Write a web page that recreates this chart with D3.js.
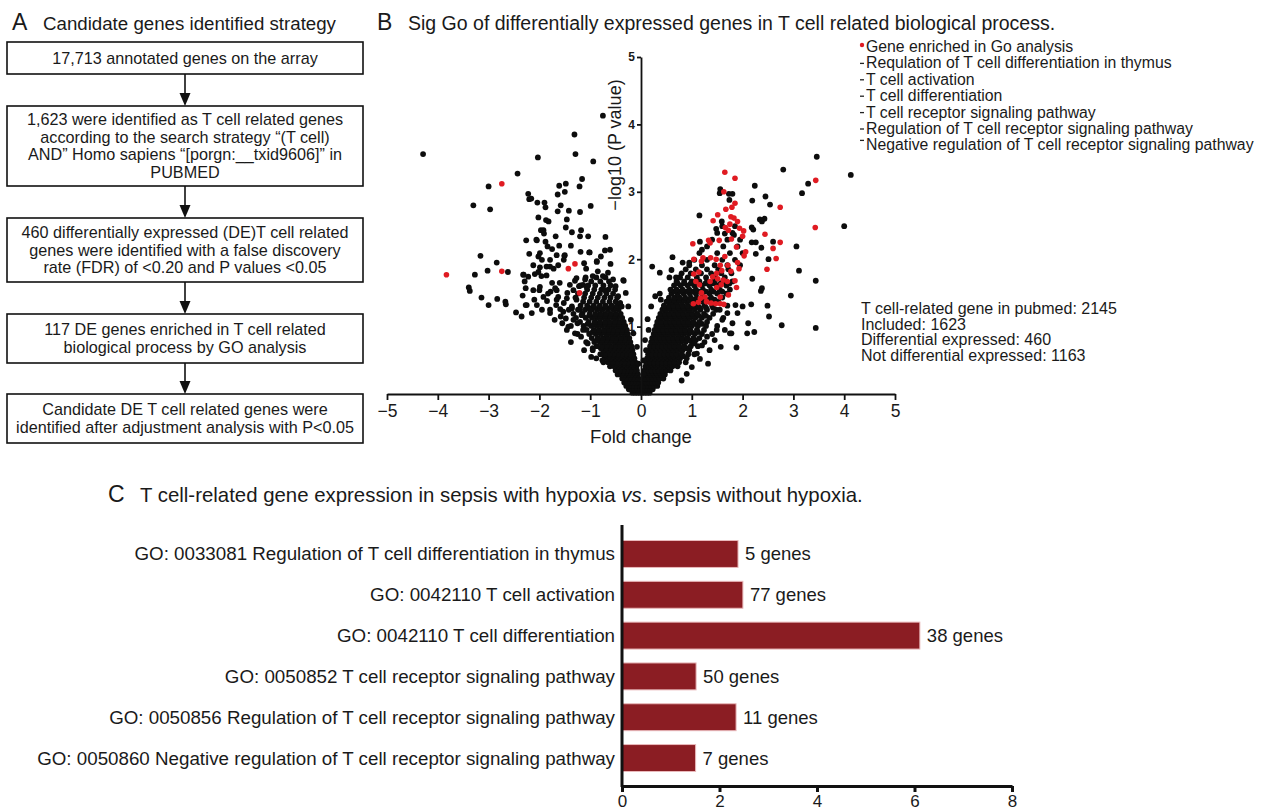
<!DOCTYPE html>
<html>
<head>
<meta charset="utf-8">
<script src="https://cdn.jsdelivr.net/npm/d3@7"></script>
<style>
body { margin: 0; background: #fff; }
text { font-family: "Liberation Sans", Arial, sans-serif; fill: #1a1a1a; }
</style>
</head>
<body>
<svg id="fig" width="1263" height="810"></svg>
<script>
// ---------- data ----------
const flowSteps = [
  ['17,713 annotated genes on the array'],
  ['1,623 were identified as T cell related genes', 'according to the search strategy “(T cell)', 'AND” Homo sapiens “[porgn:__txid9606]” in', 'PUBMED'],
  ['460 differentially expressed (DE)T cell related', 'genes were identified with a false discovery', 'rate (FDR) of <0.20 and P values <0.05'],
  ['117 DE genes enriched in T cell related', 'biological process by GO analysis'],
  ['Candidate DE T cell related genes were', 'identified after adjustment analysis with P<0.05']
];

const legendItems = [
  'Gene enriched in Go analysis',
  'Requlation of T cell differentiation in thymus',
  'T cell activation',
  'T cell differentiation',
  'T cell receptor signaling pathway',
  'Regulation of T cell receptor signaling pathway',
  'Negative regulation of T cell receptor signaling pathway'
];
const statsLines = [
  'T cell-related gene in pubmed: 2145',
  'Included: 1623',
  'Differential expressed: 460',
  'Not differential expressed: 1163'
];

const volcTicksX = [-5, -4, -3, -2, -1, 0, 1, 2, 3, 4, 5];
const volcTicksY = [1, 2, 3, 4, 5];

// dense part of the volcano, read row by row: [ -log10 p, [fold changes] ]
const leftRows = [
  [0.02, [-0.02,-0.07,-0.12,-0.17]],
  [0.07, [-0.03,-0.08,-0.13,-0.19,-0.24]],
  [0.12, [-0.02,-0.07,-0.12,-0.18,-0.24,-0.29]],
  [0.17, [-0.04,-0.09,-0.15,-0.21,-0.27,-0.33]],
  [0.23, [-0.05,-0.11,-0.17,-0.23,-0.3,-0.37]],
  [0.29, [-0.06,-0.12,-0.19,-0.25,-0.32,-0.39,-0.46]],
  [0.32, [-0.09,-0.16,-0.22,-0.29,-0.36,-0.43]],
  [0.35, [-0.08,-0.14,-0.21,-0.28,-0.35,-0.42,-0.5]],
  [0.41, [-0.09,-0.16,-0.23,-0.3,-0.37,-0.45,-0.53,-0.61]],
  [0.44, [-0.13,-0.2,-0.27,-0.34,-0.41,-0.49,-0.57]],
  [0.47, [-0.11,-0.18,-0.26,-0.33,-0.41,-0.48,-0.56,-0.65,-0.74]],
  [0.53, [-0.13,-0.2,-0.28,-0.35,-0.43,-0.51,-0.59,-0.67,-0.88]],
  [0.56, [-0.17,-0.24,-0.32,-0.39,-0.47,-0.55,-0.63,-0.72]],
  [0.59, [-0.15,-0.22,-0.3,-0.38,-0.46,-0.54,-0.62,-0.71,-0.8]],
  [0.65, [-0.17,-0.25,-0.33,-0.41,-0.49,-0.57,-0.65,-0.74,-0.95]],
  [0.68, [-0.21,-0.29,-0.37,-0.45,-0.53,-0.61,-0.69,-0.79]],
  [0.71, [-0.19,-0.27,-0.35,-0.43,-0.51,-0.6,-0.68,-0.77,-0.87]],
  [0.77, [-0.21,-0.29,-0.37,-0.46,-0.54,-0.63,-0.72,-0.81,-0.92,-1.08]],
  [0.80, [-0.25,-0.33,-0.41,-0.5,-0.59,-0.68,-0.77,-0.87]],
  [0.83, [-0.23,-0.32,-0.4,-0.49,-0.57,-0.66,-0.75,-0.85,-0.97]],
  [0.89, [-0.26,-0.34,-0.43,-0.52,-0.6,-0.69,-0.79,-0.89,-1.02,-1.25]],
  [0.92, [-0.3,-0.38,-0.47,-0.56,-0.65,-0.74,-0.84,-0.95]],
  [0.95, [-0.28,-0.37,-0.46,-0.55,-0.64,-0.73,-0.83,-0.93,-1.07]],
  [1.01, [-0.31,-0.4,-0.49,-0.58,-0.67,-0.77,-0.87,-0.98,-1.13,-1.38]],
  [1.04, [-0.35,-0.44,-0.53,-0.63,-0.72,-0.82,-0.92,-1.05]],
  [1.07, [-0.34,-0.43,-0.52,-0.62,-0.71,-0.81,-0.91,-1.03,-1.2]],
  [1.13, [-0.37,-0.47,-0.56,-0.66,-0.76,-0.86,-0.96,-1.09,-1.28]],
  [1.16, [-0.42,-0.52,-0.61,-0.71,-0.81,-0.91,-1.02]],
  [1.19, [-0.4,-0.5,-0.6,-0.7,-0.8,-0.9,-1.01,-1.15,-1.33]],
  [1.25, [-0.44,-0.54,-0.65,-0.76,-0.86,-0.97,-1.1,-1.24]],
  [1.28, [-0.49,-0.6,-0.7,-0.81,-0.92,-1.03]],
  [1.31, [-0.47,-0.58,-0.7,-0.81,-0.93,-1.06,-1.19]],
  [1.37, [-0.5,-0.62,-0.75,-0.88,-1.01,-1.14]],
  [1.43, [-0.47,-0.6,-0.72,-0.85,-0.98,-1.12,-1.29]],
  [1.49, [-0.55,-0.68,-0.81,-0.95,-1.1,-1.24]],
  [1.55, [-0.51,-0.64,-0.78,-0.92,-1.06]],
  [1.61, [-0.6,-0.74,-0.9,-1.04,-1.19]],
  [1.67, [-0.63,-0.8,-0.98]],
  [1.73, [-0.7,-0.88,-1.09]]
];
const rightRows = [
  [0.02, [0.02,0.07,0.12,0.17]],
  [0.07, [0.03,0.08,0.13,0.18,0.23]],
  [0.12, [0.03,0.08,0.14,0.2,0.26,0.32]],
  [0.17, [0.04,0.1,0.16,0.22,0.28,0.34]],
  [0.23, [0.05,0.11,0.17,0.23,0.3,0.37,0.44]],
  [0.29, [0.06,0.12,0.19,0.26,0.33,0.4,0.47]],
  [0.32, [0.09,0.16,0.23,0.3,0.37,0.44]],
  [0.35, [0.07,0.14,0.21,0.28,0.35,0.42,0.5,0.58]],
  [0.41, [0.09,0.16,0.23,0.3,0.38,0.46,0.54,0.62,0.72]],
  [0.44, [0.13,0.2,0.27,0.34,0.42,0.5,0.58,0.67]],
  [0.47, [0.1,0.18,0.26,0.34,0.42,0.5,0.58,0.66,0.75,0.88]],
  [0.53, [0.12,0.2,0.28,0.36,0.44,0.52,0.6,0.68,0.77,0.9]],
  [0.56, [0.16,0.24,0.32,0.4,0.48,0.56,0.64,0.73,0.83]],
  [0.59, [0.14,0.22,0.3,0.38,0.46,0.54,0.62,0.7,0.8,0.93,1.05]],
  [0.65, [0.16,0.24,0.32,0.4,0.48,0.56,0.64,0.73,0.82,0.95]],
  [0.68, [0.22,0.3,0.38,0.46,0.54,0.62,0.7,0.79,0.9]],
  [0.71, [0.18,0.26,0.34,0.42,0.5,0.58,0.66,0.75,0.85,0.98,1.12]],
  [0.77, [0.2,0.28,0.36,0.44,0.52,0.6,0.69,0.78,0.88,1.0,1.25]],
  [0.80, [0.24,0.32,0.4,0.48,0.56,0.65,0.74,0.83,0.94,1.08]],
  [0.83, [0.22,0.3,0.38,0.46,0.54,0.63,0.72,0.81,0.91,1.03,1.15]],
  [0.89, [0.25,0.33,0.41,0.49,0.57,0.66,0.75,0.84,0.94,1.06,1.2,1.4]],
  [0.92, [0.29,0.37,0.45,0.53,0.62,0.71,0.8,0.89,0.99,1.12]],
  [0.95, [0.27,0.35,0.43,0.52,0.6,0.69,0.78,0.87,0.97,1.1,1.24]],
  [1.01, [0.3,0.38,0.46,0.55,0.63,0.72,0.81,0.9,1.0,1.12,1.28,1.5]],
  [1.04, [0.34,0.42,0.51,0.6,0.69,0.78,0.87,0.96,1.06,1.2]],
  [1.07, [0.32,0.4,0.49,0.58,0.66,0.75,0.84,0.93,1.03,1.15,1.3]],
  [1.13, [0.35,0.44,0.52,0.61,0.7,0.79,0.88,0.97,1.07,1.2,1.35,1.62]],
  [1.16, [0.4,0.49,0.58,0.67,0.76,0.85,0.94,1.04,1.14,1.28]],
  [1.19, [0.38,0.47,0.56,0.65,0.74,0.83,0.92,1.01,1.11,1.24,1.42]],
  [1.25, [0.42,0.5,0.6,0.69,0.78,0.87,0.96,1.06,1.17,1.3,1.48]],
  [1.28, [0.47,0.56,0.65,0.74,0.84,0.94,1.04,1.15,1.28,1.42]],
  [1.31, [0.45,0.55,0.64,0.73,0.82,0.92,1.02,1.12,1.25,1.4,1.7]],
  [1.37, [0.5,0.6,0.7,0.8,0.9,1.0,1.1,1.22,1.35,1.52]],
  [1.40, [0.55,0.65,0.75,0.85,0.95,1.06,1.17,1.3,1.45]],
  [1.43, [0.55,0.66,0.76,0.87,0.98,1.1,1.24,1.38,1.6]],
  [1.49, [0.6,0.72,0.84,0.96,1.08,1.2,1.35,1.5,1.68]],
  [1.52, [0.66,0.78,0.9,1.02,1.14,1.28,1.43,1.6]],
  [1.55, [0.58,0.7,0.82,0.95,1.08,1.22,1.38,1.55,1.75]],
  [1.61, [0.65,0.78,0.92,1.05,1.2,1.35,1.5,1.68]],
  [1.64, [0.72,0.85,0.98,1.12,1.27,1.42,1.57,1.74]],
  [1.67, [0.7,0.85,1.0,1.15,1.3,1.45,1.62,1.8]],
  [1.73, [0.75,0.92,1.1,1.28,1.45,1.65]],
  [1.79, [0.8,0.98,1.18,1.38,1.58,1.78]],
  [1.85, [0.88,1.08,1.3,1.52,1.72]],
  [1.91, [0.95,1.2,1.45,1.7,1.95]],
  [1.99, [1.05,1.3,1.6,1.85]],
  [2.09, [1.15,1.5,1.75,2.0]],
  [2.19, [1.3,1.62,1.9]],
  [2.29, [1.4,1.7,1.95]],
  [2.39, [1.5,1.8]],
  [2.49, [1.6,1.85]]
];

// scattered genes outside the dense band: [fold change, -log10 p]
const blackPts = [
  [-4.29,3.56],[-2.03,3.51],[-1.29,3.56],[-1.31,3.85],[-0.75,4.13],[-0.94,3.45],[-2.43,3.27],[-3.0,3.08],[-3.30,2.80],[-2.97,2.74],
  [-1.61,3.09],[-1.48,3.12],[-1.16,3.19],[-1.21,3.08],[-1.50,3.0],[-1.64,2.96],[-2.22,2.97],[-2.20,2.89],[-2.16,2.90],[-2.04,2.84],
  [-1.90,2.84],[-1.88,2.77],[-1.58,2.80],[-1.64,2.71],[-1.42,2.72],[-1.20,2.70],[-0.99,2.79],[-2.02,2.62],[-1.87,2.58],[-1.82,2.56],
  [-1.46,2.59],[-1.48,2.47],[-1.36,2.40],[-1.18,2.43],[-1.04,2.34],[-1.97,2.43],[-1.91,2.38],[-1.68,2.34],[-2.26,2.28],[-2.06,2.29],
  [-1.88,2.26],[-1.84,2.19],[-1.61,2.20],[-1.38,2.20],[-0.70,2.33],[-0.71,2.13],[-0.79,2.04],[-0.60,1.93],[-2.20,2.08],[-2.02,2.04],
  [-1.95,1.99],[-1.79,1.99],[-1.66,2.06],[-1.51,2.05],[-1.52,1.99],[-1.19,2.11],[-1.01,2.10],[-1.12,1.94],[-1.08,1.86],[-0.87,1.97],
  [-2.12,1.91],[-1.99,1.88],[-1.86,1.89],[-1.72,1.86],[-1.63,1.91],[-3.16,2.05],[-2.84,1.95],[-3.02,1.83],[-2.62,1.81],[-3.27,1.77],
  [-2.31,1.77],[-2.09,1.78],[-1.96,1.75],[-1.86,1.76],[-2.29,1.67],[-3.39,1.58],[-3.37,1.53],[-3.14,1.43],[-3.0,1.32],[-2.83,1.41],
  [-2.67,1.37],[-2.66,1.33],[-2.46,1.21],[-2.35,1.15],[-2.27,1.32],[-2.33,1.46],[-2.27,1.57],[-2.10,1.40],[-2.05,1.32],[-1.99,1.59],
  [-2.00,1.54],[-1.83,1.49],[-1.78,1.52],[-1.66,1.54],[-1.63,1.44],[-1.67,1.32],[-1.59,1.26],[-1.79,1.20],[-1.58,1.15],[-1.46,1.42],
  [-1.30,1.68],[-1.27,1.72],[-1.14,1.62],[-1.33,1.54],[-1.36,1.30],[-1.43,1.00],[-1.38,0.77],[-1.20,1.25],[-0.98,0.55],[-0.76,0.50],
  [-0.34,1.68],[-0.41,1.35],[-2.05,2.28],[-1.92,2.43],[-1.99,2.09],[-1.75,2.15],[-1.50,2.06],[-1.20,2.34],[-1.02,2.10],[-0.61,2.14],
  [-0.35,1.69],[-0.87,1.96],[-2.32,1.77],[-2.22,1.74],[-2.12,1.54],[-2.25,1.32],[-1.92,1.44],[-1.79,1.25],[-1.66,1.40],[-1.53,1.22],
  [-1.33,1.10],[-1.46,0.95],[-1.14,0.95],[-1.27,1.40],[-1.07,1.59],[-0.71,1.54],[-1.79,1.89],[-2.02,1.81],[-2.15,1.20],[-1.69,1.57],
  [-1.40,1.62],[-1.36,1.27],[-1.17,1.17],[-1.0,1.25],
  [-1.55,1.05],[-1.48,1.12],[-1.52,1.35],[-1.42,1.25],[-1.25,1.05],[-1.18,0.85],[-1.05,0.75],[-1.12,0.65],[-0.95,0.68],[-1.3,0.9],
  [-1.22,1.6],[-1.1,1.7],[-0.95,1.75],[-0.85,1.82],[-0.75,1.75],[-0.65,1.8],[-0.55,1.7],[-0.5,1.6],[-0.45,1.45],[-0.38,1.3],
  [-1.45,1.5],[-1.6,1.65],[-1.75,1.65],[-1.85,1.38],[-1.95,1.25],[-1.7,1.1],
  [-0.05,0.45],[-0.08,0.7],[-0.15,0.9],[-0.2,1.1],[-0.25,1.3],[-0.3,1.5],
  [2.80,3.33],[3.29,3.12],[3.17,2.98],[4.13,3.25],[3.46,3.52],[4.0,2.49],[2.24,3.09],[1.56,3.04],[1.55,2.98],[1.73,2.97],
  [1.80,2.97],[1.74,2.88],[2.19,2.87],[2.45,2.93],[2.54,2.81],[1.15,2.65],[2.34,2.59],[2.43,2.60],[2.38,2.56],[2.18,2.47],
  [2.21,2.44],[1.59,2.56],[1.48,2.45],[1.65,2.38],[1.83,2.36],[2.18,2.25],[2.26,2.25],[2.60,2.26],[3.06,2.19],[2.37,2.17],
  [2.51,2.00],[2.26,2.08],[1.16,2.26],[1.20,2.14],[0.62,2.03],[0.82,1.95],[0.95,1.95],[0.22,1.89],[0.60,1.84],[0.37,1.80],
  [0.56,1.73],[0.69,1.73],[0.77,1.73],[3.11,1.83],[3.44,1.68],[2.19,1.71],[2.95,1.46],[2.38,1.57],[2.36,1.53],[2.49,1.31],
  [2.52,1.15],[2.17,1.33],[1.86,1.32],[2.77,1.02],[3.44,0.98],[2.11,1.05],[2.23,0.92],[2.09,0.90],[1.88,0.69],[1.57,0.70],
  [1.78,0.90],[1.32,0.45],[1.16,0.52],[1.75,0.90],[1.49,0.95],[0.13,1.11],[0.37,1.49],[0.39,1.40],
  [1.6,1.1],[1.7,1.2],[1.8,1.05],[1.65,0.95],[1.9,1.2],[2.0,1.3],[1.45,0.8],[1.35,0.65],[1.55,1.25],[1.3,0.85],
  [0.9,0.3],[1.0,0.4],[1.1,0.6],[0.8,0.2],[1.05,0.75],[1.2,0.72],
  [0.05,0.5],[0.08,0.8],[0.15,0.95],[0.1,0.65],[0.2,1.3],[0.28,1.45],[0.05,0.3]
];
const redPts = [
  [-2.74,3.12],[-2.74,1.82],[-3.83,1.77],[-1.43,1.86],[-1.30,1.93],[-1.21,1.50],
  [1.65,3.29],[1.85,3.20],[1.63,3.00],[1.85,2.83],[1.79,2.77],[1.67,2.74],[1.51,2.66],[1.42,2.57],[1.77,2.63],[1.83,2.61],
  [1.90,2.56],[1.75,2.52],[1.66,2.47],[1.72,2.43],[1.94,2.46],[2.02,2.42],[2.00,2.34],[1.54,2.28],[1.78,2.30],[1.33,2.28],
  [1.36,2.24],[1.02,2.23],[1.88,2.18],[2.06,2.11],[2.03,2.05],[1.37,2.02],[1.48,2.00],[1.65,2.04],[1.22,2.02],[1.04,2.00],
  [1.19,1.97],[1.71,1.91],[1.56,1.91],[1.90,1.95],[1.93,1.86],[1.14,1.81],[1.04,1.78],[1.41,1.74],[1.49,1.79],[1.59,1.83],
  [1.77,1.82],[1.51,1.71],[1.62,1.69],[1.70,1.67],[1.36,1.67],[1.08,1.67],[1.15,1.62],[1.58,1.62],[1.85,1.68],[1.88,1.58],
  [1.49,1.58],[1.19,1.50],[1.26,1.44],[1.17,1.42],[1.29,1.37],[1.13,1.36],[1.03,1.34],[1.38,1.35],[1.56,1.44],[1.56,1.34],
  [1.63,1.33],[1.47,1.34],[1.72,1.47],[2.74,2.77],[2.44,2.37],[2.74,2.25],[2.60,2.16],[2.66,2.01],[2.48,1.85],[3.44,3.17],
  [3.43,2.47]
];

const goTerms = [
  'GO: 0033081 Regulation of T cell differentiation in thymus',
  'GO: 0042110 T cell activation',
  'GO: 0042110 T cell differentiation',
  'GO: 0050852 T cell receptor signaling pathway',
  'GO: 0050856 Regulation of T cell receptor signaling pathway',
  'GO: 0050860 Negative regulation of T cell receptor signaling pathway'
];
const goValues = [2.38, 2.48, 6.11, 1.52, 2.34, 1.51];
const goGenes = ['5 genes', '77 genes', '38 genes', '50 genes', '11 genes', '7 genes'];
const barTicks = [0, 2, 4, 6, 8];

// ---------- drawing ----------
const svg = d3.select('#fig');

function panelTitle(x, y, letter, text, size) {
  svg.append('text').attr('x', x).attr('y', y).attr('font-size', 23).text(letter);
  return svg.append('text').attr('x', x + 31).attr('y', y).attr('font-size', size).text(text);
}

// A: flowchart
panelTitle(12, 30, 'A', 'Candidate genes identified strategy', 18.7);
const boxY = [[42, 74], [106, 186], [218, 282], [314, 363], [394, 443]];
const boxX = 7, boxW = 356, cx = boxX + boxW / 2, lh = 17.5;
flowSteps.forEach((lines, i) => {
  const [t, b] = boxY[i];
  svg.append('rect').attr('x', boxX).attr('y', t).attr('width', boxW).attr('height', b - t)
    .attr('fill', 'none').attr('stroke', '#111').attr('stroke-width', 1.6);
  const mid = (t + b) / 2;
  lines.forEach((ln, j) => {
    svg.append('text').attr('x', cx).attr('y', mid - (lines.length - 1) * lh / 2 + j * lh + 5.5)
      .attr('text-anchor', 'middle').attr('font-size', 16.2).text(ln);
  });
  if (i < flowSteps.length - 1) {
    const nt = boxY[i + 1][0];
    svg.append('line').attr('x1', cx).attr('x2', cx).attr('y1', b).attr('y2', nt - 8)
      .attr('stroke', '#111').attr('stroke-width', 1.6);
    svg.append('path').attr('d', `M${cx - 5.5},${nt - 13}L${cx + 5.5},${nt - 13}L${cx},${nt}Z`).attr('fill', '#111');
  }
});

// B: volcano
panelTitle(377, 30, 'B', 'Sig Go of differentially expressed genes in T cell related biological process.', 19.5);
const xV = d3.scaleLinear().domain([-5, 5]).range([387, 895]);
const yV = d3.scaleLinear().domain([0, 5]).range([394, 57]);

const blobPts = [];
leftRows.concat(rightRows).forEach(([y, xs]) => xs.forEach(x => blobPts.push([x, y])));

const gPts = svg.append('g');
gPts.selectAll('circle.blk').data(blobPts.concat(blackPts)).join('circle').attr('class', 'blk')
  .attr('cx', d => xV(d[0])).attr('cy', d => yV(d[1])).attr('r', 2.9).attr('fill', '#0d0d0d');
gPts.selectAll('circle.red').data(redPts).join('circle').attr('class', 'red')
  .attr('cx', d => xV(d[0])).attr('cy', d => yV(d[1])).attr('r', 2.8).attr('fill', '#e01b22');

const fmtMinus = d => d < 0 ? '\u2212' + Math.abs(d) : String(d);
const xAxV = svg.append('g').attr('transform', `translate(0,${yV(0)})`)
  .call(d3.axisBottom(xV).tickValues(volcTicksX).tickFormat(fmtMinus).tickSize(6).tickSizeOuter(0).tickPadding(5));
xAxV.selectAll('text').attr('font-size', 17.5).attr('fill', '#1a1a1a');
xAxV.selectAll('line, path').attr('stroke', '#111').attr('stroke-width', 1.8);

const yAxV = svg.append('g').attr('transform', `translate(${xV(0)},0)`)
  .call(d3.axisLeft(yV).tickValues(volcTicksY).tickFormat(d3.format('d')).tickSize(4).tickSizeOuter(0).tickPadding(2));
yAxV.selectAll('text').attr('font-size', 12).attr('font-weight', 'bold').attr('fill', '#111');
yAxV.selectAll('line, path').attr('stroke', '#111').attr('stroke-width', 1.8);

svg.append('text').attr('x', xV(0)).attr('y', 443).attr('text-anchor', 'middle')
  .attr('font-size', 18.5).text('Fold change');
svg.append('text').attr('transform', 'translate(621,145) rotate(-90)').attr('text-anchor', 'middle')
  .attr('font-size', 18).text('\u2212log10 (P value)');

// legend
const legY0 = 52, legStep = 16.4;
legendItems.forEach((t, i) => {
  const y = legY0 + i * legStep;
  svg.append('text').attr('x', 866).attr('y', y).attr('font-size', 15.8).text(t);
  if (i === 0) {
    svg.append('circle').attr('cx', 862).attr('cy', y - 7).attr('r', 2.2).attr('fill', '#e01b22');
  } else {
    const dy = i === legendItems.length - 1 ? -10 : -5;
    svg.append('line').attr('x1', 860).attr('x2', 864).attr('y1', y + dy).attr('y2', y + dy)
      .attr('stroke', '#222').attr('stroke-width', 1.3);
  }
});
statsLines.forEach((t, i) => {
  svg.append('text').attr('x', 861).attr('y', 314 + i * 15.7).attr('font-size', 16).text(t);
});

// C: bar chart
svg.append('text').attr('x', 108).attr('y', 502).attr('font-size', 23).text('C');
svg.append('text').attr('x', 140).attr('y', 502).attr('font-size', 20.4)
  .call(t => {
    t.append('tspan').text('T cell-related gene expression in sepsis with hypoxia ');
    t.append('tspan').attr('font-style', 'italic').text('vs');
    t.append('tspan').text('. sepsis without hypoxia.');
  });

const xC = d3.scaleLinear().domain([0, 8]).range([622, 1012]);
const yC = d3.scaleBand().domain(goTerms).range([525, 787]).paddingInner(0.34).paddingOuter(0.38);

svg.append('g').selectAll('rect').data(goTerms).join('rect')
  .attr('x', xC(0)).attr('y', d => yC(d))
  .attr('width', (d, i) => xC(goValues[i]) - xC(0)).attr('height', yC.bandwidth())
  .attr('fill', '#8b1d23').attr('stroke', '#e9b9bb').attr('stroke-width', 1);

svg.append('g').selectAll('text').data(goTerms).join('text')
  .attr('x', (d, i) => xC(goValues[i]) + 7).attr('y', d => yC(d) + yC.bandwidth() / 2 + 6.5)
  .attr('font-size', 18.5).text((d, i) => goGenes[i]);

svg.append('g').selectAll('text').data(goTerms).join('text')
  .attr('x', 615).attr('y', d => yC(d) + yC.bandwidth() / 2 + 6.5)
  .attr('text-anchor', 'end').attr('font-size', 18.75).text(d => d);

svg.append('line').attr('x1', xC(0)).attr('x2', xC(0)).attr('y1', 525).attr('y2', 787)
  .attr('stroke', '#111').attr('stroke-width', 3);
const xAxC = svg.append('g').attr('transform', 'translate(0,786)')
  .call(d3.axisBottom(xC).tickValues(barTicks).tickSize(6).tickSizeOuter(0).tickPadding(3));
xAxC.selectAll('text').attr('font-size', 17).attr('fill', '#1a1a1a');
xAxC.selectAll('line, path').attr('stroke', '#111').attr('stroke-width', 3);
</script>
</body>
</html>
